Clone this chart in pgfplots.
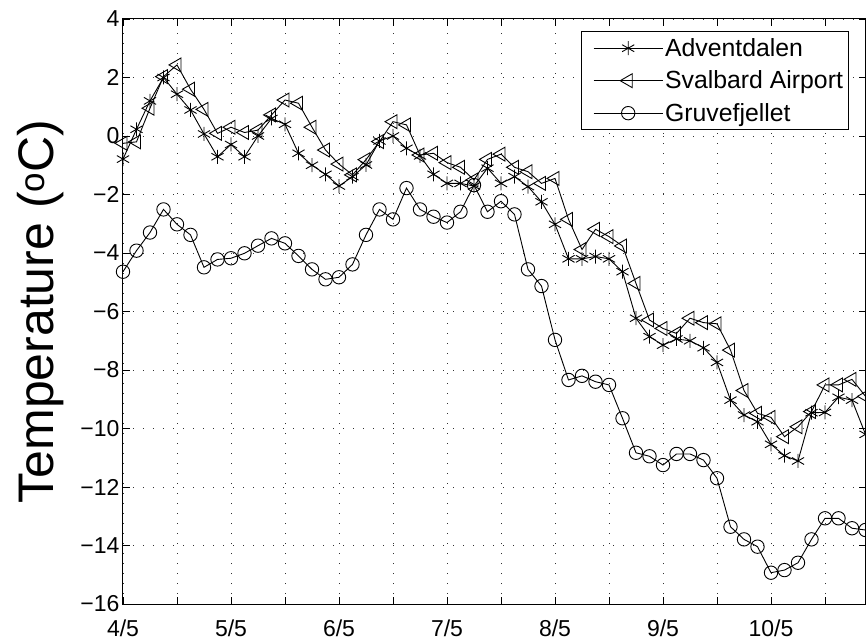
\documentclass[border=0pt]{standalone}
\usepackage{fontspec}
\setmainfont{Liberation Sans}
\usepackage{pgfplots}
\usepackage{pgfplotstable}
\pgfplotsset{compat=1.18}
\pgfplotstableread{
x a s g
4.000 -0.79 -0.25 -4.64
4.125 0.23 -0.20 -3.92
4.250 1.20 0.95 -3.30
4.375 2.00 2.03 -2.51
4.500 1.43 2.43 -3.02
4.625 0.89 1.60 -3.38
4.750 0.07 0.91 -4.49
4.875 -0.71 0.09 -4.22
5.000 -0.29 0.30 -4.18
5.125 -0.71 0.12 -4.01
5.250 0.00 0.20 -3.75
5.375 0.60 0.72 -3.50
5.500 0.40 1.23 -3.67
5.625 -0.59 1.12 -4.10
5.750 -1.00 0.30 -4.56
5.875 -1.31 -0.48 -4.90
6.000 -1.71 -0.96 -4.83
6.125 -1.39 -1.33 -4.39
6.250 -0.99 -0.81 -3.38
6.375 -0.17 -0.19 -2.51
6.500 0.00 0.49 -2.85
6.625 -0.42 0.38 -1.78
6.750 -0.68 -0.65 -2.51
6.875 -1.31 -0.59 -2.76
7.000 -1.62 -0.91 -2.96
7.125 -1.62 -1.07 -2.59
7.250 -1.71 -1.50 -1.68
7.375 -1.10 -0.80 -2.59
7.500 -1.62 -0.62 -2.23
7.625 -1.39 -1.07 -2.68
7.750 -1.73 -1.22 -4.56
7.875 -2.25 -1.62 -5.13
8.000 -3.02 -1.45 -6.97
8.125 -4.20 -2.85 -8.34
8.250 -4.20 -3.88 -8.20
8.375 -4.12 -3.19 -8.40
8.500 -4.20 -3.44 -8.51
8.625 -4.64 -3.76 -9.65
8.750 -6.23 -5.04 -10.83
8.875 -6.86 -6.29 -10.95
9.000 -7.15 -6.58 -11.25
9.125 -6.94 -6.75 -10.87
9.250 -7.00 -6.23 -10.87
9.375 -7.24 -6.38 -11.08
9.500 -7.74 -6.42 -11.70
9.625 -9.03 -7.32 -13.36
9.750 -9.54 -8.70 -13.79
9.875 -9.77 -9.48 -14.04
10.000 -10.54 -9.62 -14.93
10.125 -10.93 -10.28 -14.84
10.250 -11.11 -9.94 -14.59
10.375 -9.46 -9.42 -13.79
10.500 -9.45 -8.51 -13.07
10.625 -8.93 -8.51 -13.07
10.750 -9.03 -8.32 -13.41
10.875 -10.20 -8.90 -13.47
}\temps
\begin{document}
\begin{tikzpicture}
\useasboundingbox (-123pt,-39pt) rectangle (743pt,604pt);
\begin{axis}[
  at={(0pt,0pt)}, anchor=south west,
  scale only axis, width=742.5pt, height=585pt,
  xmin=4, xmax=10.875, ymin=-16, ymax=4,
  xtick={4,4.5,5,5.5,6,6.5,7,7.5,8,8.5,9,9.5,10,10.5},
  xticklabels={4/5,,5/5,,6/5,,7/5,,8/5,,9/5,,10/5,},
  ytick={-16,-14,-12,-10,-8,-6,-4,-2,0,2,4},
  yticklabels={−16,−14,−12,−10,−8,−6,−4,−2,0,2,4},
  tick align=inside, major tick length=7pt,
  tick style={black, line width=0.8pt},
  grid=major,
  major grid style={black!80, line width=0.9pt, dash pattern=on 1pt off 9pt},
  axis line style={line width=1pt},
  tick label style={font=\fontsize{23}{23}\selectfont},
  xticklabel style={yshift=-12pt},
  ylabel={Temperature (\textsuperscript{o}C)},
  ylabel style={font=\fontsize{50}{50}\selectfont, at={(axis description cs:0,0.5)}, anchor=center, yshift=82pt},
  legend style={at={(0.9784,0.9795)}, anchor=north east, draw=black, line width=1pt,
    font=\fontsize{24.8}{24.8}\selectfont, inner xsep=4pt, inner ysep=5pt, row sep=9pt},
  legend cell align=left,
  legend image code/.code={\path (0pt,0pt); \draw[mark repeat=2,mark phase=2,#1] plot coordinates {(8pt,0pt) (42.5pt,0pt) (77pt,0pt)};},
  every axis plot/.append style={black, line width=0.9pt},
]
\addplot[mark=asterisk, mark size=7pt, mark options={solid}] table[x=x,y=a] {\temps};
\addlegendentry{Adventdalen}
\addplot[mark=triangle, mark size=8pt, mark options={solid, rotate=90}] table[x=x,y=s] {\temps};
\addlegendentry{Svalbard Airport}
\addplot[mark=o, mark size=6.7pt, mark options={solid}] table[x=x,y=g] {\temps};
\addlegendentry{Gruvefjellet}
\end{axis}
\end{tikzpicture}
\end{document}
